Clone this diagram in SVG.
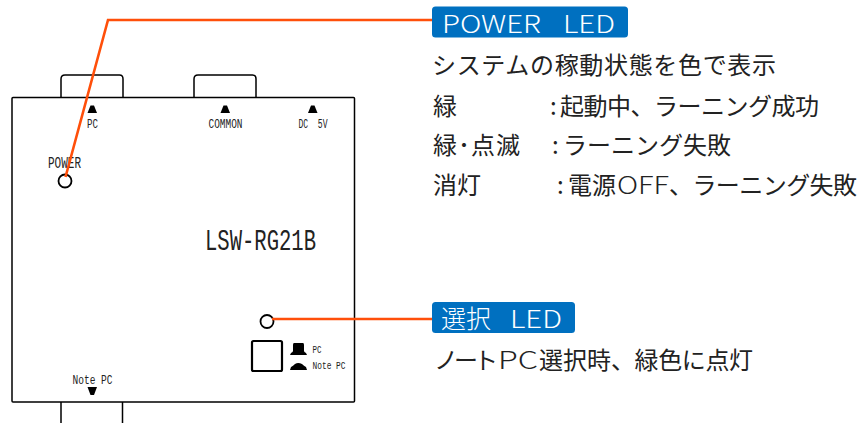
<svg xmlns="http://www.w3.org/2000/svg" width="861" height="423" viewBox="0 0 861 423">
<style>
.o{fill:none;stroke:#000;stroke-width:1.5}
.m{font-family:"Liberation Mono",monospace;fill:#222}
.j{font-family:"Noto Sans CJK JP","Noto Sans",sans-serif;font-size:24px;font-weight:400;fill:#222}
.l{font-weight:300}
.h{font-family:"Noto Sans CJK JP","Noto Sans",sans-serif;font-size:25px;font-weight:300;fill:#fff}
.b{fill:#0070c0}
.c{fill:none;stroke:#ff4f0a;stroke-width:2.6;stroke-linejoin:miter}
</style>
<rect width="861" height="423" fill="#fff"/>
<g id="device">
<rect class="o" x="12" y="97.500" width="342.500" height="304.500" rx="1"/>
<path class="o" d="M61 97V79Q61 75 65 75H119.500Q123 75 123 79V97"/>
<path class="o" d="M194 97V79Q194 75 198 75H252.500Q256 75 256 79V97"/>
<path class="o" d="M61 402V423M122.500 402V423"/>
<path d="M87.500 113L90.500 105.500H94L97 113Z"/>
<path d="M220.500 113L223.500 105.500H227L230 113Z"/>
<path d="M308 113L311 105.500H314.500L317.500 113Z"/>
<path d="M87.500 387H97L94 395H90.500Z"/>
<text class="m" x="87" y="128" font-size="13.500" textLength="11" lengthAdjust="spacingAndGlyphs">PC</text>
<text class="m" x="208.500" y="128" font-size="13.500" textLength="34" lengthAdjust="spacingAndGlyphs">COMMON</text>
<text class="m" x="298.500" y="128" font-size="13.500" textLength="29" lengthAdjust="spacingAndGlyphs" xml:space="preserve">DC  5V</text>
<text class="m" x="72.500" y="384" font-size="12.500" textLength="40" lengthAdjust="spacingAndGlyphs">Note PC</text>
<text class="m" x="48" y="168" font-size="16" textLength="33" lengthAdjust="spacingAndGlyphs">POWER</text>
<text class="m" x="205" y="250" font-size="30" textLength="111" lengthAdjust="spacingAndGlyphs">LSW-RG21B</text>
</g>
<g id="power-led">
<circle cx="65" cy="181" r="6.500" fill="#fff" stroke="#000" stroke-width="1.800"/>
</g>
<g id="select-led">
<circle cx="267" cy="321.500" r="6.500" fill="#fff" stroke="#000" stroke-width="1.800"/>
</g>
<g id="select-switch">
<rect x="252" y="341" width="30" height="30" rx="1.500" fill="none" stroke="#000" stroke-width="2.200"/>
<path d="M294 343H303Q304 343 304 345V351Q304 352 306 353L307 355H290L291 353Q293 352 293 351V345Q293 343 294 343Z"/>
<path d="M290 370L291 367Q293 366 295 364Q298 362 302 364Q304 366 306 367L307 370Z"/>
<text class="m" x="312.500" y="353" font-size="11" textLength="9" lengthAdjust="spacingAndGlyphs">PC</text>
<text class="m" x="312.500" y="369" font-size="11" textLength="33" lengthAdjust="spacingAndGlyphs">Note PC</text>
</g>
<g id="connectors">
<path class="c" d="M65.500 177L108 20H432"/>
<path class="c" d="M272 319H432"/>
</g>
<g id="power-label">
<rect class="b" x="432" y="6.500" width="196" height="31" rx="3.500"/>
<text class="h" x="442" y="33" textLength="99" lengthAdjust="spacingAndGlyphs">POWER</text>
<text class="h" x="563" y="33" textLength="52" lengthAdjust="spacingAndGlyphs">LED</text>
</g>
<g id="power-text">
<text class="j" x="432" y="74" textLength="344">システムの稼動状態を色で表示</text>
<text class="j" x="433" y="114.500">緑</text>
<text class="j" x="550" y="114.500">:</text>
<text class="j" x="560" y="114.500" textLength="259">起動中、ラーニング成功</text>
<text class="j" x="433" y="154" textLength="87">緑･点滅</text>
<text class="j" x="552" y="154">:</text>
<text class="j" x="563" y="154">ラーニング失敗</text>
<text class="j" x="433" y="194">消灯</text>
<text class="j" x="557" y="194">:</text>
<text class="j" x="568" y="194">電源</text>
<text class="j l" x="617" y="194" textLength="52" lengthAdjust="spacingAndGlyphs">OFF</text>
<text class="j" x="669" y="194" textLength="188">、ラーニング失敗</text>
</g>
<g id="select-label">
<rect class="b" x="432" y="302" width="143" height="31" rx="3.500"/>
<text class="h" x="441" y="328">選択</text>
<text class="h" x="510" y="328" textLength="52" lengthAdjust="spacingAndGlyphs">LED</text>
</g>
<g id="select-text">
<text class="j" x="434" y="369" textLength="64">ノート</text>
<text class="j l" x="498" y="369" textLength="40" lengthAdjust="spacingAndGlyphs">PC</text>
<text class="j" x="539" y="369">選択時</text>
<text class="j" x="611" y="369" textLength="142">、緑色に点灯</text>
</g>
</svg>
